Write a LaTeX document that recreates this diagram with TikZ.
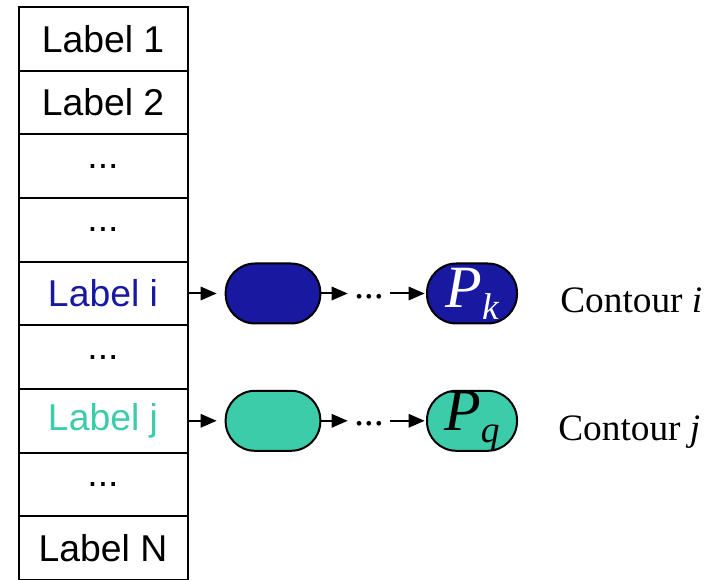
\documentclass[tikz,border=0pt]{standalone}
\usepackage{fontspec}
\setmainfont{Liberation Serif}
\newfontfamily\labelfont{Liberation Sans}
\usetikzlibrary{arrows.meta}
\definecolor{cblue}{RGB}{24,24,160}
\definecolor{cteal}{RGB}{60,204,170}
\begin{document}
\begin{tikzpicture}[x=0.75pt,y=-0.75pt,
  cell/.style={draw, line width=1.5pt, minimum width=126.75pt, minimum height=47.75pt,
    inner sep=0pt, font=\labelfont\fontsize{28}{30}\selectfont},
  oval/.style={rectangle, rounded corners=22pt, draw, line width=1.5pt, minimum height=45pt, inner sep=0pt},
  dotsnode/.style={minimum width=31.5pt, inner sep=0pt, text height=13pt, text depth=0pt,
    font=\labelfont\fontsize{13}{14}\selectfont},
  arr/.style={line width=1.5pt, -{Triangle[length=12pt,width=10pt]}},
  ctext/.style={anchor=base west, inner sep=0pt, font=\fontsize{28}{30}\selectfont},
  ptext/.style={font=\fontsize{45}{48}\selectfont}
]
\useasboundingbox (0,0) rectangle (714,580);
\node[cell] (r1) at (103,38.8) {Label 1};
\node[cell] (r2) at (103,102.5) {Label 2};
\node[cell] (r3) at (103,166.2) {...};
\node[cell] (r4) at (103,229.8) {...};
\node[cell, text=cblue] (r5) at (103,293.5) {Label i};
\node[cell] (r6) at (103,357.2) {...};
\node[cell, text=cteal] (r7) at (103,420.8) {Label j};
\node[cell] (r8) at (103,484.5) {...};
\node[cell] (r9) at (103,548.2) {Label N};

% contour i
\node[oval, fill=cblue, minimum width=71pt] (oi) at (273,293.5) {};
\node[dotsnode] (di) at (369,293.5) {•\hspace{2.8pt}•\hspace{2.8pt}•};
\node[oval, fill=cblue, minimum width=67.5pt, text=white, ptext] (pk) at (472,293.5)
  {\itshape P\raisebox{-9pt}{\fontsize{28}{30}\selectfont k}};
\draw[arr, shorten >=6pt] (r5) -- (oi);
\draw[arr] (oi) -- (di);
\draw[arr, shorten >=1pt] (di) -- (pk);
\node[ctext] (ci) at (560,313) {Contour \textit{i}};

% contour j
\node[oval, fill=cteal, minimum width=71pt] (oj) at (273,420.8) {};
\node[dotsnode] (dj) at (369,420.8) {•\hspace{2.8pt}•\hspace{2.8pt}•};
\node[oval, fill=cteal, minimum width=67.5pt, ptext] (pq) at (472,420.8)
  {\itshape P\raisebox{-9pt}{\fontsize{28}{30}\selectfont q}};
\draw[arr, shorten >=6pt] (r7) -- (oj);
\draw[arr] (oj) -- (dj);
\draw[arr, shorten >=1pt] (dj) -- (pq);
\node[ctext] (cj) at (558,441) {Contour \textit{j}};
\end{tikzpicture}
\end{document}
